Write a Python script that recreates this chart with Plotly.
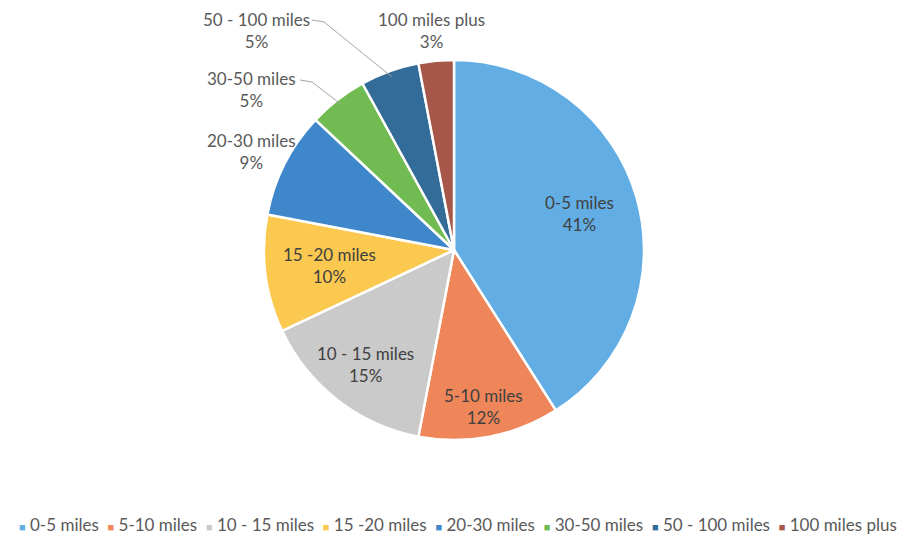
import math
import plotly.graph_objects as go

labels = ["0-5 miles", "5-10 miles", "10 - 15 miles", "15 -20 miles",
          "20-30 miles", "30-50 miles", "50 - 100 miles", "100 miles plus"]
values = [41, 12, 15, 10, 9, 5, 5, 3]
colors = ["#62AEE4", "#EE8659", "#CACACA", "#FBC94F",
          "#3F87CB", "#70BB52", "#336C98", "#A65749"]

W, H = 919, 537
cx, cy, R = 454, 250, 190  # pie centre / radius in pixels

FONT = "Lato"

fig = go.Figure(go.Pie(
    labels=labels, values=values, sort=False, direction="clockwise", rotation=0,
    marker=dict(colors=colors, line=dict(color="white", width=2.5)),
    textinfo="none",
    domain=dict(x=[(cx - R) / W, (cx + R) / W], y=[(H - cy - R) / H, (H - cy + R) / H]),
    hoverinfo="label+percent",
    showlegend=False,
))

# label placement style: inside labels at a fraction of the radius along the
# slice's mid-angle; outside labels at a text centre (px) with optional leader line
inside_frac = {"0-5 miles": 0.69, "5-10 miles": 0.84, "10 - 15 miles": 0.76, "15 -20 miles": 0.66}
outside_pos = {
    "20-30 miles": (251, 152, None),
    "30-50 miles": (251, 90, (300, 80)),
    "50 - 100 miles": (256, 30, (312, 20)),
    "100 miles plus": (431, 30, None),
}

total = sum(values)
cum = 0
annotations = []
shapes = []
for lab, v in zip(labels, values):
    mid = (cum + v / 2) / total
    cum += v
    ang = mid * 2 * math.pi
    text = f"{lab}<br>{v}%"
    if lab in inside_frac:
        r = R * inside_frac[lab]
        tx = cx + r * math.sin(ang)
        ty = cy - r * math.cos(ang)
        annotations.append(dict(
            x=tx / W, y=1 - ty / H, xref="paper", yref="paper", showarrow=False,
            xanchor="center", yanchor="middle", text=text, align="center",
            font=dict(family=FONT, size=17, color="#404040"),
        ))
        continue
    tx, ty, lead = outside_pos[lab]
    annotations.append(dict(
        x=tx / W, y=1 - ty / H, xref="paper", yref="paper", showarrow=False,
        xanchor="center", yanchor="middle", text=text, align="center",
        font=dict(family=FONT, size=17, color="#595959"),
    ))
    if lead:
        ex = cx + R * 0.97 * math.sin(ang)
        ey = cy - R * 0.97 * math.cos(ang)
        sx, sy = lead
        shapes.append(dict(
            type="path", xref="paper", yref="paper",
            path=f"M {sx / W} {1 - sy / H} L {(sx + 12) / W} {1 - (sy + 2) / H} L {ex / W} {1 - ey / H}",
            line=dict(color="#A6A6A6", width=1),
        ))

# legend row (built from the labels / colours)
legend_items = [
    f'<span style="color:{c};font-size:11px">■</span> {lab}' for lab, c in zip(labels, colors)
]
annotations.append(dict(
    x=458 / W, y=1 - 524 / H, xref="paper", yref="paper", showarrow=False,
    xanchor="center", yanchor="middle",
    text="\u00a0\u00a0".join(legend_items),
    font=dict(family=FONT, size=17, color="#595959"),
))

fig.update_layout(
    width=W, height=H, margin=dict(l=0, r=0, t=0, b=0),
    paper_bgcolor="white", plot_bgcolor="white",
    font=dict(family=FONT, color="#595959"),
    showlegend=False,
    annotations=annotations, shapes=shapes,
)

fig.write_html("out.html")
